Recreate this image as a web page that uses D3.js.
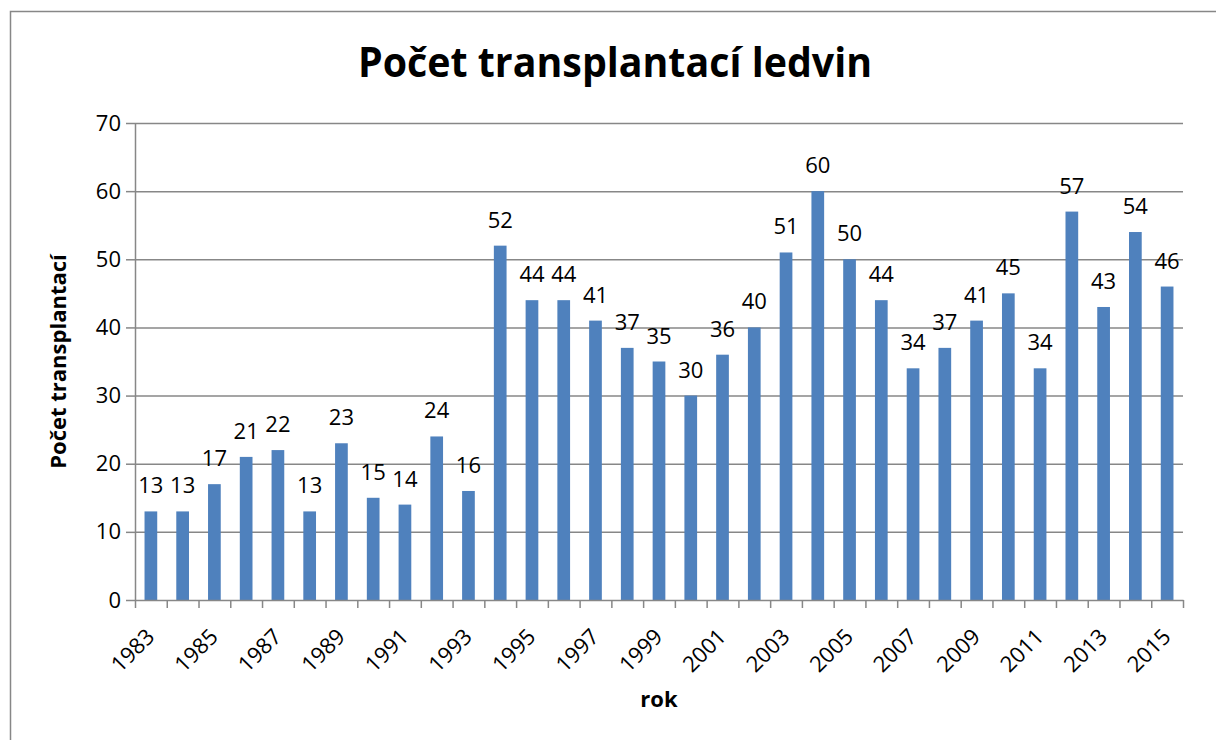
<!DOCTYPE html>
<meta charset="utf-8">
<html lang="cs">
<head>
    <title>Počet transplantací ledvin</title>
    <script src="https://d3js.org/d3.v7.min.js"></script>
    <style>
        body {
            margin: 0;
            background-color: #ffffff;
            font-family: "Open Sans", sans-serif;
        }

        .axis path,
        .axis line {
            fill: none;
            stroke: #878787;
            stroke-width: 1.5;
        }

        .axis text {
            font: 22px "Open Sans", sans-serif;
            fill: #000;
        }

        .grid line {
            stroke: #878787;
            stroke-width: 1.5;
        }

        .grid path {
            display: none;
        }
    </style>
</head>
<body>
    <svg width="1216" height="740"></svg>
    <script>
        // Data
        var years = d3.range(1983, 2016).map(String);
        var counts = [13, 13, 17, 21, 22, 13, 23, 15, 14, 24, 16, 52, 44, 44, 41, 37, 35,
            30, 36, 40, 51, 60, 50, 44, 34, 37, 41, 45, 34, 57, 43, 54, 46];
        var yTicks = [0, 10, 20, 30, 40, 50, 60, 70];

        var svg = d3.select("svg"),
            margin = { top: 123, right: 33, bottom: 140, left: 135 },
            width = +svg.attr("width") - margin.left - margin.right,
            height = +svg.attr("height") - margin.top - margin.bottom;

        // outer frame
        svg.append("rect")
            .attr("x", 10.5)
            .attr("y", 11.5)
            .attr("width", 1216)
            .attr("height", 740)
            .attr("fill", "none")
            .attr("stroke", "#878787")
            .attr("stroke-width", 1.5);

        var g = svg.append("g").attr("transform", "translate(" + margin.left + "," + margin.top + ")");

        var x = d3.scaleBand()
            .domain(years)
            .range([0, width])
            .paddingInner(0.6)
            .paddingOuter(0.3);

        // category boundaries for the tick marks
        var xb = d3.scaleLinear().domain([0, years.length]).range([0, width]);

        var y = d3.scaleLinear().domain([0, 70]).range([height, 0]);

        // horizontal gridlines
        g.append("g")
            .attr("class", "grid")
            .call(d3.axisLeft(y).tickValues(yTicks.slice(1)).tickSize(-width).tickFormat(""));

        // bars
        g.selectAll(".bar")
            .data(counts)
            .enter().append("rect")
            .attr("class", "bar")
            .attr("x", function(d, i) { return x(years[i]); })
            .attr("y", function(d) { return y(d); })
            .attr("width", x.bandwidth())
            .attr("height", function(d) { return height - y(d); })
            .attr("fill", "#4f81bd");

        // value labels
        g.selectAll(".val")
            .data(counts)
            .enter().append("text")
            .attr("class", "val")
            .attr("x", function(d, i) { return x(years[i]) + x.bandwidth() / 2; })
            .attr("y", function(d) { return y(d) - 18; })
            .attr("text-anchor", "middle")
            .style("font-size", "22px")
            .text(function(d) { return d; });

        // y axis
        g.append("g")
            .attr("class", "axis")
            .call(d3.axisLeft(y).tickValues(yTicks).tickSize(9).tickPadding(5).tickSizeOuter(0));

        // x axis: tick marks at boundaries, labels every second year
        g.append("g")
            .attr("class", "axis")
            .attr("transform", "translate(0," + height + ")")
            .call(d3.axisBottom(xb).tickValues(d3.range(years.length + 1)).tickSize(8).tickSizeOuter(0).tickFormat(""));

        g.append("g")
            .selectAll("text")
            .data(years.filter(function(d, i) { return i % 2 === 0; }))
            .enter().append("text")
            .attr("transform", function(d) {
                return "translate(" + (x(d) + x.bandwidth() / 2 + 5) + "," + (height + 38) + ")rotate(-45)";
            })
            .attr("text-anchor", "end")
            .style("font-size", "22px")
            .text(function(d) { return d; });

        // title
        svg.append("text")
            .attr("x", 615)
            .attr("y", 77)
            .attr("text-anchor", "middle")
            .attr("textLength", 514)
            .attr("lengthAdjust", "spacingAndGlyphs")
            .style("font-size", "41px")
            .style("font-weight", "bold")
            .text("Počet transplantací ledvin");

        // axis titles
        svg.append("text")
            .attr("transform", "translate(66," + (margin.top + height / 2) + ")rotate(-90)")
            .attr("text-anchor", "middle")
            .style("font-size", "22px")
            .style("font-weight", "bold")
            .text("Počet transplantací");

        svg.append("text")
            .attr("x", 659)
            .attr("y", 707)
            .attr("text-anchor", "middle")
            .style("font-size", "22px")
            .style("font-weight", "bold")
            .text("rok");
    </script>
</body>
</html>
